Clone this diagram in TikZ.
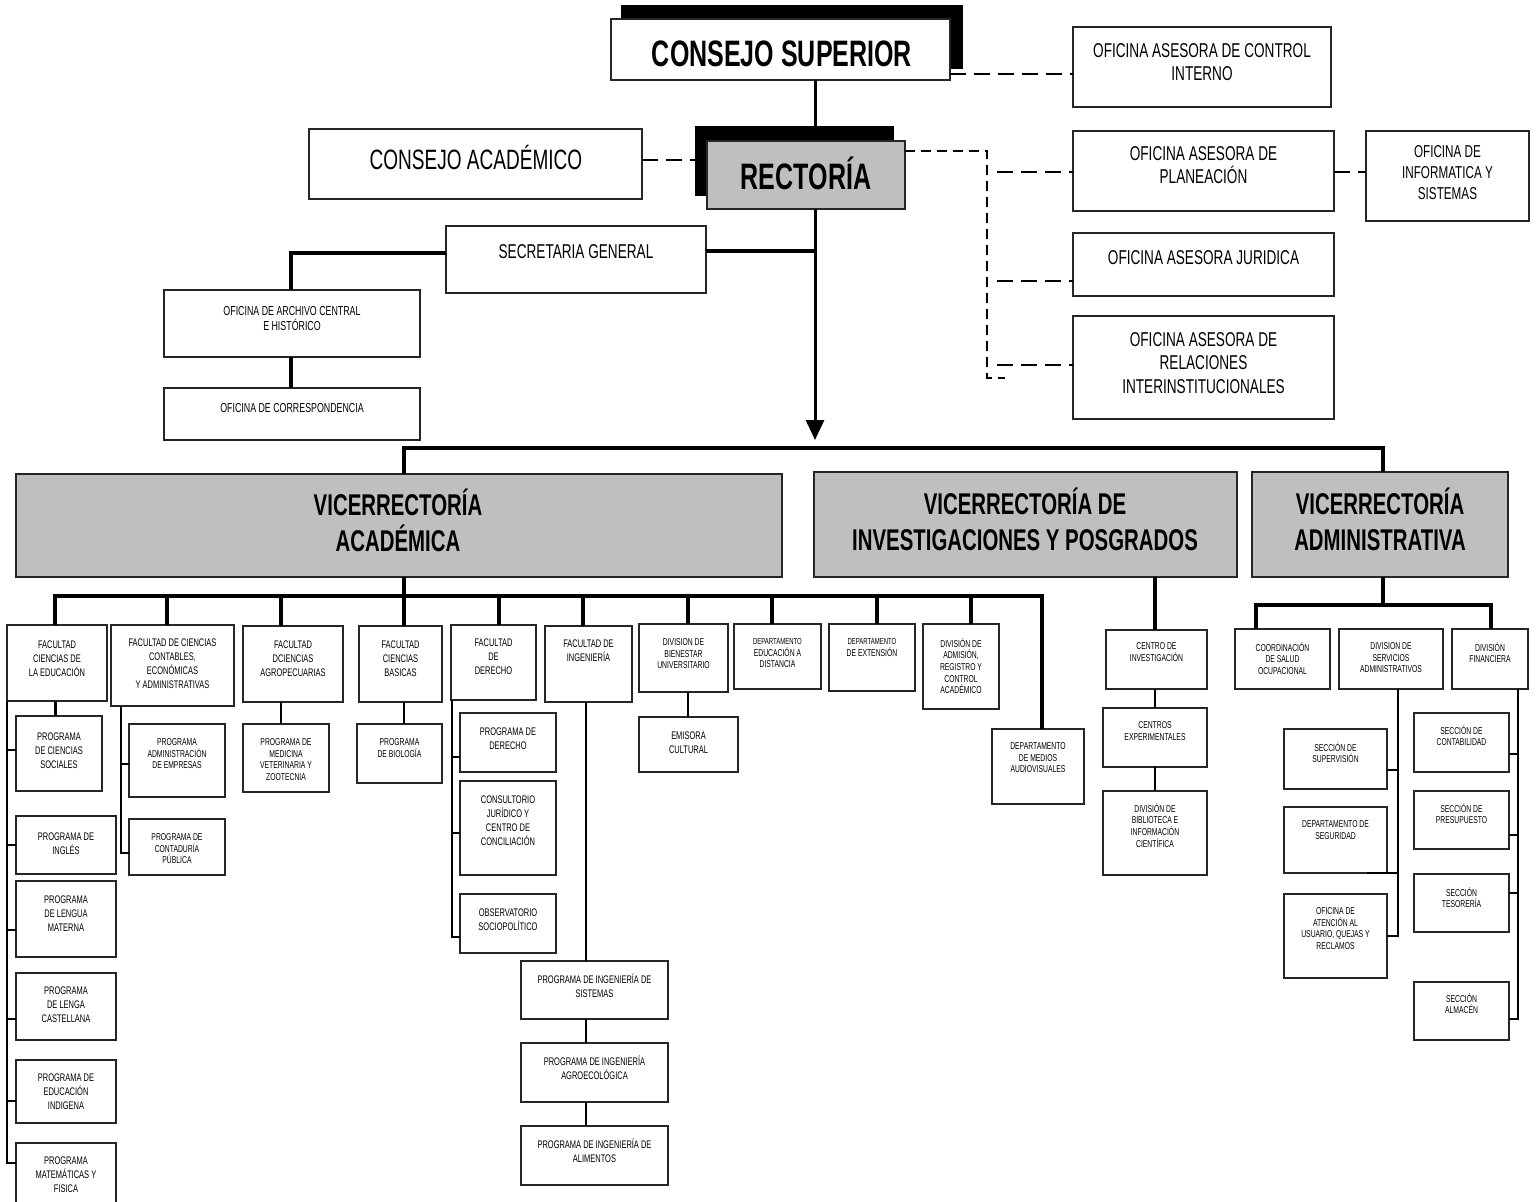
\documentclass[tikz,border=0pt]{standalone}
\usepackage{fontspec}
\setmainfont{Liberation Sans}[FakeStretch=0.68]
\usetikzlibrary{arrows.meta}
\tikzset{
 box/.style={draw=black!85,line width=0.8pt,fill=white,inner sep=0pt,outer sep=0pt,anchor=north west},
 gbox/.style={box,fill=black!25},
 shad/.style={box,draw=black,fill=black},
 txt/.style={anchor=north,align=center,inner sep=0pt,font=\fontsize{5.5}{7}\selectfont},
 xs/.style={font=\fontsize{5}{5.85}\selectfont},
 md/.style={font=\fontsize{10}{11.8}\selectfont},
 big/.style={anchor=center,align=center,inner sep=0pt},
 vic/.style={big,font=\bfseries\fontsize{15}{18}\selectfont},
 thk/.style={line width=2.3pt},
 mid/.style={line width=1.5pt},
 thn/.style={line width=0.9pt},
 dsh/.style={line width=1pt,dash pattern=on 8pt off 4pt},
 dshs/.style={line width=0.9pt,dash pattern=on 5pt off 3pt},
}
\newcommand\bx[6][]{\node[box,#1,minimum width={(#5-#3)*0.5pt},minimum height={(#6-#4)*0.5pt}] (#2) at (#3,#4) {};}
\newcommand\tx[4][]{\node[txt,#1] (#2-t) at ([shift={(0,#3)}]#2.north) {#4};}
\begin{document}
\begin{tikzpicture}[x=0.5pt,y=-0.5pt]
\useasboundingbox[fill=white] (0,0) rectangle (1537,1201);
% ---------- top level ----------
\bx[shad]{css}{622}{6}{962}{68}
\bx{cs}{611}{19}{950}{80}
\node[big,font=\bfseries\fontsize{18.4}{20}\selectfont] (cs-t) at (782,54) {CONSEJO SUPERIOR};
\bx{ctrl}{1073}{27}{1331}{107}
\tx[md]{ctrl}{16}{OFICINA ASESORA DE CONTROL\\INTERNO}
\bx[shad]{rects}{696}{127}{893}{195}
\bx[gbox]{rect}{707}{141}{905}{209}
\node[big,font=\bfseries\fontsize{18.4}{20}\selectfont] (rect-t) at (806,173) {RECTORÍA};
\bx{cacad}{309}{129}{642}{199}
\node[big,font=\fontsize{14}{16}\selectfont] (cacad-t) at (476,157) {CONSEJO ACADÉMICO};
\bx{plan}{1073}{131}{1334}{211}
\tx[md]{plan}{15}{OFICINA ASESORA DE\\PLANEACIÓN}
\bx{info}{1366}{131}{1529}{221}
\tx[font=\fontsize{8.6}{10.5}\selectfont]{info}{14}{OFICINA DE\\INFORMATICA Y\\SISTEMAS}
\bx{jur}{1073}{233}{1334}{296}
\tx[md]{jur}{17}{OFICINA ASESORA JURIDICA}
\bx{rel}{1073}{316}{1334}{419}
\tx[md]{rel}{16}{OFICINA ASESORA DE\\RELACIONES\\INTERINSTITUCIONALES}
\bx{sec}{446}{226}{706}{293}
\tx[md]{sec}{18}{SECRETARIA GENERAL}
\bx{arch}{164}{290}{420}{357}
\tx[font=\fontsize{6.5}{7.5}\selectfont]{arch}{16}{OFICINA DE ARCHIVO CENTRAL\\E HISTÓRICO}
\bx{corr}{164}{388}{420}{440}
\tx[font=\fontsize{6.5}{7.5}\selectfont]{corr}{15}{OFICINA DE CORRESPONDENCIA}
% ---------- vicerrectorias ----------
\bx[gbox]{va}{16}{474}{782}{577}
\node[vic] (va-t) at (398,520) {VICERRECTORÍA\\ACADÉMICA};
\bx[gbox]{vi}{814}{472}{1237}{577}
\node[vic] (vi-t) at (1025,519) {VICERRECTORÍA DE\\INVESTIGACIONES Y POSGRADOS};
\bx[gbox]{vad}{1252}{472}{1508}{577}
\node[vic] (vad-t) at (1380,519) {VICERRECTORÍA\\ADMINISTRATIVA};
% ---------- academica ----------
\bx{fedu}{7}{625}{107}{701}
\tx{fedu}{15}{FACULTAD\\CIENCIAS DE\\LA EDUCACIÓN}
\bx{fcon}{111}{625}{234}{706}
\tx{fcon}{13}{FACULTAD DE CIENCIAS\\CONTABLES,\\ECONÓMICAS\\Y ADMINISTRATIVAS}
\bx{fagr}{243}{626}{343}{702}
\tx{fagr}{14}{FACULTAD\\DCIENCIAS\\AGROPECUARIAS}
\bx{fbas}{359}{626}{442}{702}
\tx{fbas}{14}{FACULTAD\\CIENCIAS\\BASICAS}
\bx{fder}{451}{625}{536}{700}
\tx{fder}{13}{FACULTAD\\DE\\DERECHO}
\bx{fing}{545}{626}{632}{702}
\tx{fing}{13}{FACULTAD DE\\INGENIERÍA}
\bx{bien}{639}{624}{728}{692}
\tx[xs]{bien}{14}{DIVISION DE\\BIENESTAR\\UNIVERSITARIO}
\bx{dist}{734}{624}{821}{689}
\tx[xs]{dist}{14}{{\fontsize{4.4}{5}\selectfont DEPARTAMENTO}\\EDUCACIÓN A\\DISTANCIA}
\bx{ext}{829}{624}{915}{691}
\tx[xs]{ext}{14}{{\fontsize{4.4}{5}\selectfont DEPARTAMENTO}\\DE EXTENSIÓN}
\bx{adm}{923}{624}{999}{709}
\tx[xs]{adm}{14}{DIVISIÓN DE\\ADMISIÓN,\\REGISTRO Y\\CONTROL\\ACADÉMICO}
\bx{med}{992}{729}{1084}{804}
\tx[xs]{med}{13}{DEPARTAMENTO\\DE MEDIOS\\AUDIOVISUALES}
% programas educacion
\bx{psoc}{16}{716}{102}{791}
\tx{psoc}{16}{PROGRAMA\\DE CIENCIAS\\SOCIALES}
\bx{ping}{16}{816}{116}{874}
\tx{ping}{16}{PROGRAMA DE\\INGLÉS}
\bx{pmat}{16}{881}{116}{957}
\tx{pmat}{14}{PROGRAMA\\DE LENGUA\\MATERNA}
\bx{pcas}{16}{973}{116}{1040}
\tx{pcas}{13}{PROGRAMA\\DE LENGA\\CASTELLANA}
\bx{pind}{16}{1060}{116}{1123}
\tx{pind}{13}{PROGRAMA DE\\EDUCACIÓN\\INDIGENA}
\bx{pmf}{16}{1143}{116}{1205}
\tx{pmf}{13}{PROGRAMA\\MATEMÁTICAS Y\\FISICA}
% programas contables / agro / basicas
\bx{padm}{129}{724}{225}{797}
\tx[xs]{padm}{14}{PROGRAMA\\ADMINISTRACIÓN\\DE EMPRESAS}
\bx{pcont}{129}{819}{225}{875}
\tx[xs]{pcont}{14}{PROGRAMA DE\\CONTADURÍA\\PÚBLICA}
\bx{pvet}{243}{724}{329}{792}
\tx[xs]{pvet}{14}{PROGRAMA DE\\MEDICINA\\VETERINARIA Y\\ZOOTECNIA}
\bx{pbio}{357}{724}{442}{783}
\tx[xs]{pbio}{14}{PROGRAMA\\DE BIOLOGÍA}
% derecho
\bx{pder}{460}{713}{556}{772}
\tx{pder}{14}{PROGRAMA DE\\DERECHO}
\bx{pcons}{460}{781}{556}{875}
\tx{pcons}{14}{CONSULTORIO\\JURÍDICO Y\\CENTRO DE\\CONCILIACIÓN}
\bx{pobs}{460}{894}{556}{953}
\tx{pobs}{14}{OBSERVATORIO\\SOCIOPOLÍTICO}
% ingenieria
\bx{psis}{521}{961}{668}{1019}
\tx{psis}{13}{PROGRAMA DE INGENIERÍA DE\\SISTEMAS}
\bx{pagro}{521}{1043}{668}{1102}
\tx{pagro}{13}{PROGRAMA DE INGENIERÍA\\AGROECOLÓGICA}
\bx{palim}{521}{1126}{668}{1185}
\tx{palim}{13}{PROGRAMA DE INGENIERÍA DE\\ALIMENTOS}
\bx{emi}{639}{717}{738}{772}
\tx{emi}{14}{EMISORA\\CULTURAL}
% ---------- investigaciones ----------
\bx{cinv}{1106}{630}{1207}{689}
\tx[xs]{cinv}{12}{CENTRO DE\\INVESTIGACIÓN}
\bx{cexp}{1103}{708}{1207}{767}
\tx[xs]{cexp}{13}{CENTROS\\EXPERIMENTALES}
\bx{bib}{1103}{791}{1207}{875}
\tx[xs]{bib}{12}{DIVISIÓN DE\\BIBLIOTECA E\\INFORMACIÓN\\CIENTÍFICA}
% ---------- administrativa ----------
\bx{salud}{1235}{629}{1330}{689}
\tx[xs]{salud}{13}{COORDINACIÓN\\DE SALUD\\OCUPACIONAL}
\bx{serv}{1339}{629}{1443}{689}
\tx[xs]{serv}{13}{DIVISION DE\\SERVICIOS\\ADMINISTRATIVOS}
\bx{fin}{1452}{629}{1528}{689}
\tx[xs]{fin}{13}{DIVISIÓN\\FINANCIERA}
\bx{sup}{1284}{729}{1387}{789}
\tx[xs]{sup}{13}{SECCIÓN DE\\SUPERVISIÓN}
\bx{seg}{1284}{807}{1387}{873}
\tx[xs]{seg}{13}{DEPARTAMENTO DE\\SEGURIDAD}
\bx{aten}{1284}{894}{1387}{978}
\tx[xs]{aten}{13}{OFICINA DE\\ATENCIÓN AL\\USUARIO, QUEJAS Y\\RECLAMOS}
\bx{cont}{1414}{713}{1509}{772}
\tx[xs]{cont}{12}{SECCIÓN DE\\CONTABILIDAD}
\bx{pres}{1414}{791}{1509}{849}
\tx[xs]{pres}{12}{SECCIÓN DE\\PRESUPUESTO}
\bx{tes}{1414}{874}{1509}{932}
\tx[xs]{tes}{13}{SECCIÓN\\TESORERÍA}
\bx{alm}{1414}{982}{1509}{1040}
\tx[xs]{alm}{11}{SECCIÓN\\ALMACÉN}
% ================= connectors =================
% top
\draw[mid] (815,0 |- cs.south) -- (815,0 |- rects.north);
\draw[dsh] (cs.east |- 0,74) -- (ctrl.west |- 0,74);
\draw[dsh] (cacad.east |- 0,160) -- (rects.west |- 0,160);
\draw[dshs] (rect.east |- 0,151) -- (987,151) -- (987,378) -- (1005,378);
\draw[dsh] (997,172) -- (plan.west |- 0,172);
\draw[dsh] (997,281) -- (jur.west |- 0,281);
\draw[dsh] (997,365) -- (rel.west |- 0,365);
\draw[dsh] (plan.east |- 0,172) -- (info.west |- 0,172);
\coordinate (atip) at (815,440);
\draw[mid,-{Triangle[length=10pt,width=9pt]}] (815,0 |- rect.south) -- (atip);
% secretaria
\draw[thk] (815,251) -- (sec.east |- 0,251);
\draw[thk] (sec.west |- 0,253) -| (291,0 |- arch.north);
\draw[thk] (291,0 |- arch.south) -- (291,0 |- corr.north);
% bus 1
\draw[thk] (404,0 |- va.north) |- (1383,448) -- (1383,0 |- vad.north);
% academica bus
\draw[thk] (404,0 |- va.south) -- (404,596);
\draw[thk] (55,0 |- fedu.north) |- (1042,596) -- (1042,0 |- med.north);
\foreach \n/\x in {fcon/167,fagr/281,fbas/404,fder/499,fing/583,bien/688,dist/772,ext/877,adm/971}
  \draw[thk] (\x,596) -- (\x,0 |- \n.north);
% educacion
\draw[mid] (55,0 |- fedu.south) -- (55,0 |- psoc.north);
\draw[thn] (7,0 |- fedu.south) -- (7,1163) -- (pmf.west |- 0,1163);
\foreach \n/\y in {psoc/750,ping/845,pmat/930,pcas/1019,pind/1101}
  \draw[thn] (7,\y) -- (\n.west |- 0,\y);
% contables
\draw[thn] (121,0 |- fcon.south) -- (121,853) -- (pcont.west |- 0,853);
\draw[thn] (121,764) -- (padm.west |- 0,764);
\draw[thn] (281,0 |- fagr.south) -- (281,0 |- pvet.north);
\draw[thn] (404,0 |- fbas.south) -- (404,0 |- pbio.north);
% derecho
\draw[thn] (452,0 |- fder.south) -- (452,937) -- (pobs.west |- 0,937);
\draw[thn] (452,757) -- (pder.west |- 0,757);
\draw[thn] (452,833) -- (pcons.west |- 0,833);
% ingenieria
\draw[thn] (586,0 |- fing.south) -- (586,0 |- psis.north);
\draw[thn] (586,0 |- psis.south) -- (586,0 |- pagro.north);
\draw[thn] (586,0 |- pagro.south) -- (586,0 |- palim.north);
\draw[thn] (688,0 |- bien.south) -- (688,0 |- emi.north);
% investigaciones
\draw[thk] (1155,0 |- vi.south) -- (1155,0 |- cinv.north);
\draw[thn] (1155,0 |- cinv.south) -- (1155,0 |- cexp.north);
\draw[thn] (1155,0 |- cexp.south) -- (1155,0 |- bib.north);
% administrativa
\draw[thk] (1383,0 |- vad.south) -- (1383,605);
\draw[thk] (1256,0 |- salud.north) |- (1491,605) -- (1491,0 |- fin.north);
\draw[thn] (1398,0 |- serv.south) -- (1398,936) -- (aten.east |- 0,936);
\draw[thn] (1398,770) -- (sup.east |- 0,770);
\draw[thn] (1398,873) -- (1367,873);
\draw[thn] (1518,0 |- fin.south) -- (1518,1019) -- (alm.east |- 0,1019);
\foreach \n/\y in {cont/754,pres/835,tes/893}
  \draw[thn] (1518,\y) -- (\n.east |- 0,\y);
\end{tikzpicture}
\end{document}
